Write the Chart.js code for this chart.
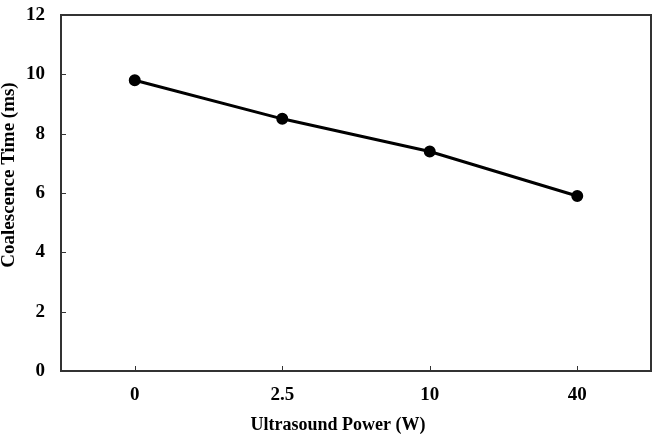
<html>
<head>
  <title>Coalescence Time</title>
  <script src="https://cdn.jsdelivr.net/npm/chart.js"></script>
  <style>
    body { margin: 0; background: #fff; }
  </style>
</head>
<body>
  <canvas id="grafico" width="669" height="441"></canvas>

  <script>
    const categorias = ['0', '2.5', '10', '40'];
    const tempos = [9.8, 8.5, 7.4, 5.9];
    const yTicks = [0, 2, 4, 6, 8, 10, 12];
    const tituloX = 'Ultrasound Power (W)';
    const tituloY = 'Coalescence Time (ms)';

    const familia = '"Liberation Serif", "Times New Roman", serif';
    const fonteTicks = { family: familia, weight: 'bold', size: 19 };

    // box around plot, inward tick marks, axis titles (both sit off the plot centre in the original)
    const moldura = {
      id: 'moldura',
      afterDraw(chart) {
        const { ctx, chartArea: a, scales } = chart;
        ctx.save();
        ctx.strokeStyle = '#333';
        ctx.lineWidth = 2;
        ctx.strokeRect(a.left, a.top, a.right - a.left, a.bottom - a.top);
        ctx.lineWidth = 1;
        ctx.beginPath();
        scales.y.ticks.forEach((t, i) => {
          const y = Math.round(scales.y.getPixelForTick(i)) + 0.5;
          ctx.moveTo(a.left, y);
          ctx.lineTo(a.left + 5, y);
        });
        scales.x.ticks.forEach((t, i) => {
          const x = Math.round(scales.x.getPixelForTick(i)) + 0.5;
          ctx.moveTo(x, a.bottom);
          ctx.lineTo(x, a.bottom - 5);
        });
        ctx.stroke();

        ctx.fillStyle = '#000';
        ctx.textAlign = 'center';
        ctx.textBaseline = 'middle';
        ctx.font = 'bold 18px ' + familia;
        ctx.fillText(tituloX, (a.left + a.right) / 2 - 18, a.bottom + 54);

        ctx.translate(9, (a.top + a.bottom) / 2 - 18);
        ctx.rotate(-Math.PI / 2);
        ctx.font = 'bold 19px ' + familia;
        ctx.fillText(tituloY, 0, 0);
        ctx.restore();
      }
    };

    new Chart(document.getElementById('grafico'), {
      type: 'line',
      data: {
        labels: categorias,
        datasets: [{
          data: tempos,
          borderColor: '#000',
          backgroundColor: '#000',
          borderWidth: 3,
          pointRadius: 4.5,
          pointBackgroundColor: '#000',
          tension: 0,
          fill: false
        }]
      },
      options: {
        responsive: false,
        animation: false,
        layout: { padding: { top: 15, right: 18, left: 0, bottom: 0 } },
        plugins: { legend: { display: false }, tooltip: { enabled: false } },
        scales: {
          x: {
            offset: true,
            grid: { display: false, drawTicks: false },
            border: { display: false },
            ticks: { color: '#000', font: fonteTicks, padding: 13 },
            afterFit: s => { s.height = 70; s.paddingLeft = 0; s.paddingRight = 0; }
          },
          y: {
            min: 0,
            max: 12,
            afterBuildTicks: s => { s.ticks = yTicks.map(v => ({ value: v })); },
            grid: { display: false, drawTicks: false },
            border: { display: false },
            ticks: { color: '#000', font: fonteTicks, padding: 16 },
            afterFit: s => { s.width = 61; s.paddingTop = 0; s.paddingBottom = 0; }
          }
        }
      },
      plugins: [moldura]
    });
  </script>
</body>
</html>
